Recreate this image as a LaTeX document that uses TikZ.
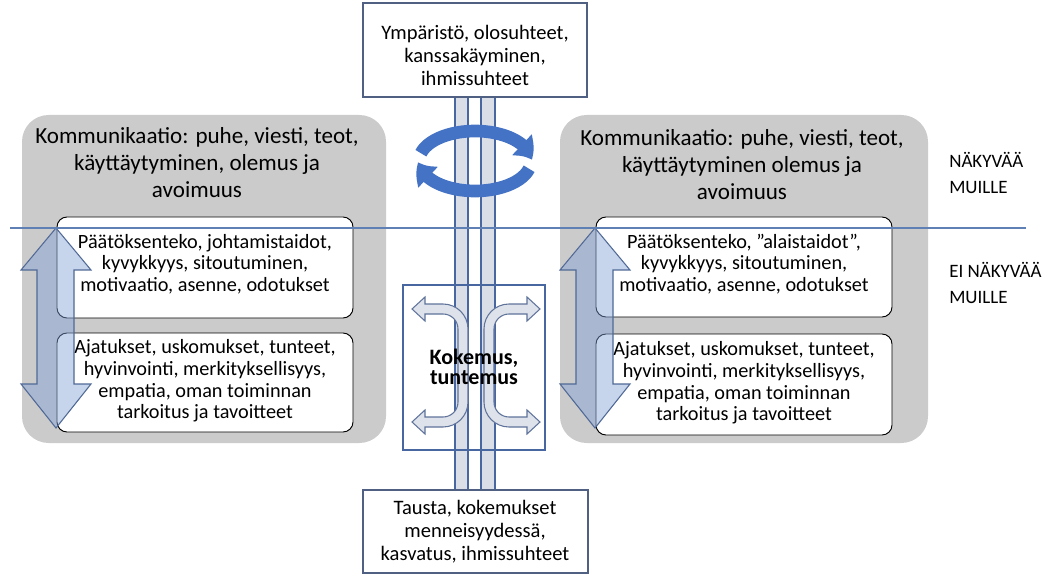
\documentclass[tikz,border=0pt]{standalone}
\usepackage{fontspec}
\setmainfont{Carlito}
\usetikzlibrary{arrows.meta,bending}

\definecolor{panelgray}{RGB}{203,203,203}
\definecolor{frameblue}{RGB}{80,96,130}
\definecolor{stripfill}{RGB}{218,222,231}
\definecolor{stripline}{RGB}{72,102,160}
\definecolor{dividerblue}{RGB}{95,128,180}
\definecolor{cycleblue}{RGB}{68,114,196}
\definecolor{updownfill}{RGB}{130,160,215}
\definecolor{updownline}{RGB}{80,105,150}
\definecolor{bracketfill}{RGB}{222,226,234}
\definecolor{bracketline}{RGB}{95,115,155}

\begin{document}
\begin{tikzpicture}[x=0.75pt,y=-0.75pt,
  panel/.style={fill=panelgray, rounded corners=20pt},
  paneltitle/.style={align=center, inner sep=0pt, font=\fontsize{17.3pt}{20.2pt}\selectfont},
  innerbox/.style={draw=black, line width=0.7pt, fill=white, rounded corners=7.5pt},
  innertext/.style={align=center, inner sep=0pt, font=\fontsize{15.2pt}{16.2pt}\selectfont},
  framebox/.style={draw=frameblue, line width=0.8pt, fill=white},
  frametext/.style={align=center, inner sep=0pt, font=\fontsize{15.4pt}{17.25pt}\selectfont},
  sidetext/.style={align=left, anchor=west, inner sep=0pt, font=\fontsize{14.2pt}{19pt}\selectfont},
  strip/.style={fill=stripfill, draw=stripline, line width=0.8pt},
  divider/.style={draw=dividerblue, line width=0.9pt},
  cyclearrow/.style={draw=cycleblue, line width=9.5pt, -{Triangle[length=13pt,width=21pt,bend]}},
  updown/.style={fill=updownfill, fill opacity=0.45, draw=updownline, line width=0.8pt},
  bracket/.style={fill=bracketfill, draw=bracketline, line width=0.8pt},
  centerbox/.style={draw=stripline, line width=0.8pt},
  centertext/.style={align=center, inner sep=0pt, font=\fontsize{16.5pt}{15.5pt}\selectfont\bfseries}
]
\useasboundingbox (0,0) rectangle (1061,574);

% grey panels
\path[panel] (22,115) rectangle (386,443);
\path[panel] (560,115) rectangle (928,443);

\node[paneltitle] (lefttitle) at (197,163) {Kommunikaatio: puhe, viesti, teot,\\käyttäytyminen, olemus ja\\avoimuus};
\node[paneltitle] (righttitle) at (742,165) {Kommunikaatio: puhe, viesti, teot,\\käyttäytyminen olemus ja\\avoimuus};

% white inner boxes
\path[innerbox] (57,217) rectangle (353,318);
\path[innerbox] (57,333) rectangle (353,432);
\path[innerbox] (596,217) rectangle (892,317);
\path[innerbox] (596,334) rectangle (892,435);

\node[innertext] (leftskills) at (205,264) {Päätöksenteko, johtamistaidot,\\kyvykkyys, sitoutuminen,\\motivaatio, asenne, odotukset};
\node[innertext] (leftinner) at (205,381) {Ajatukset, uskomukset, tunteet,\\hyvinvointi, merkityksellisyys,\\empatia, oman toiminnan\\tarkoitus ja tavoitteet};
\node[innertext] (rightskills) at (744,264) {Päätöksenteko, ”alaistaidot”,\\kyvykkyys, sitoutuminen,\\motivaatio, asenne, odotukset};
\node[innertext] (rightinner) at (744,383) {Ajatukset, uskomukset, tunteet,\\hyvinvointi, merkityksellisyys,\\empatia, oman toiminnan\\tarkoitus ja tavoitteet};

% up-down arrows
\path[updown] (56,228) -- (91,270) -- (74,270) -- (74,384) -- (91,384) -- (56,428)
  -- (21,384) -- (37,384) -- (37,270) -- (21,270) -- cycle;
\path[updown] (595,228) -- (630,270) -- (613,270) -- (613,384) -- (630,384) -- (595,428)
  -- (560,384) -- (576,384) -- (576,270) -- (560,270) -- cycle;

% vertical strips between the frames
\path[strip] (455,97) rectangle (468,490);
\path[strip] (481,97) rectangle (495,490);

% top and bottom frames
\path[framebox] (363,3) rectangle (587,97);
\node[frametext] (environment) at (475,55) {Ympäristö, olosuhteet,\\kanssakäyminen,\\ihmissuhteet};
\path[framebox] (363,490) rectangle (588,573);
\node[frametext] (background) at (475,532) {Tausta, kokemukset\\menneisyydessä,\\kasvatus, ihmissuhteet};

% circular arrows
\draw[cyclearrow] (475,161) ++(195:56 and 30) arc[start angle=195, end angle=358, x radius=56, y radius=30];
\draw[cyclearrow] (475,161) ++(15:56 and 30) arc[start angle=15, end angle=178, x radius=56, y radius=30];

% centre frame with branching arrows
\path[centerbox] (403,285) rectangle (545,450);
\path[bracket] (425,304) -- (443,304) arc[start angle=270, end angle=360, radius=25]
  -- (468,402) arc[start angle=0, end angle=90, radius=25]
  -- (425,427) -- (425,434) -- (412,422) -- (425,410) -- (425,417)
  -- (443,417) arc[start angle=90, end angle=0, radius=15]
  -- (458,329) arc[start angle=0, end angle=-90, radius=15]
  -- (425,314) -- (425,321) -- (412,309) -- (425,297) -- cycle;
\begin{scope}[shift={(952,0)}, xscale=-1]
\path[bracket] (425,304) -- (443,304) arc[start angle=270, end angle=360, radius=25]
  -- (468,402) arc[start angle=0, end angle=90, radius=25]
  -- (425,427) -- (425,434) -- (412,422) -- (425,410) -- (425,417)
  -- (443,417) arc[start angle=90, end angle=0, radius=15]
  -- (458,329) arc[start angle=0, end angle=-90, radius=15]
  -- (425,314) -- (425,321) -- (412,309) -- (425,297) -- cycle;
\end{scope}
\node[centertext] (experience) at (474,367) {Kokemus,\\tuntemus};

% visibility divider
\draw[divider] (10,228) -- (1026,228);
\node[sidetext] (visible) at (949,173) {NÄKYVÄÄ\\MUILLE};
\node[sidetext] (hidden) at (949,283) {EI NÄKYVÄÄ\\MUILLE};
\end{tikzpicture}
\end{document}
